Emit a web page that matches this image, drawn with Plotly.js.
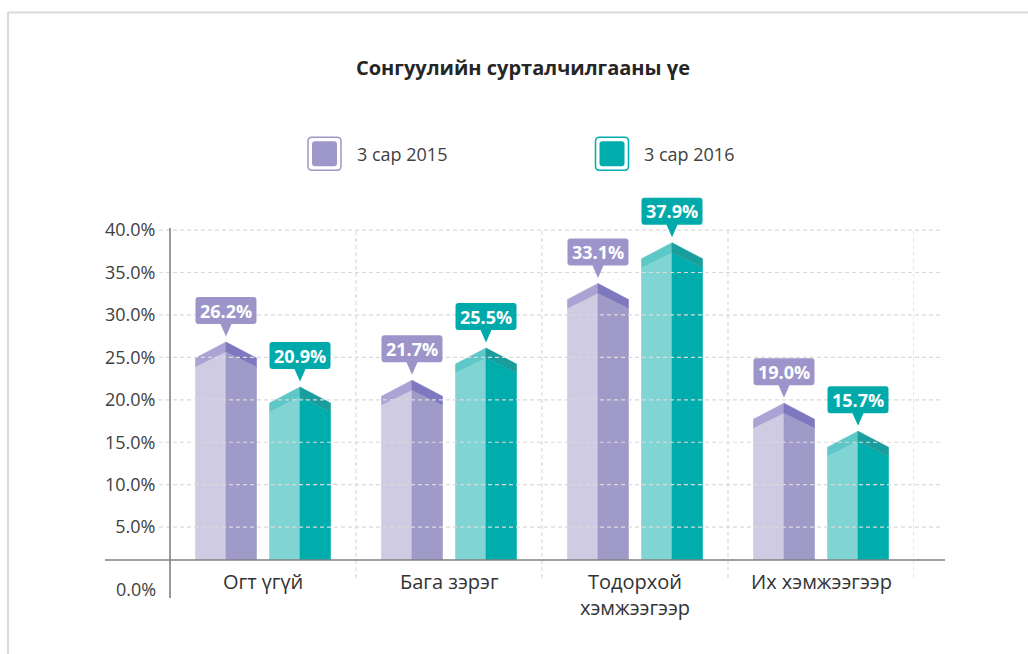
<!DOCTYPE html>
<html><head><meta charset="utf-8">
<script src="https://cdn.plot.ly/plotly-3.0.1.min.js"></script>
<style>html,body{margin:0;padding:0;background:#fff;}#chart{width:1028px;height:654px;}</style>
</head><body><div id="chart"></div>
<script>
// ---------- data ----------
const chartTitle = 'Сонгуулийн сурталчилгааны үе';
const categories = ['Огт үгүй', 'Бага зэрэг', 'Тодорхой<br>хэмжээгээр', 'Их хэмжээгээр'];
const seriesNames = ['3 сар 2015', '3 сар 2016'];
const values2015 = [26.2, 21.7, 33.1, 19.0];
const values2016 = [20.9, 25.5, 37.9, 15.7];
const yTickVals = [5, 10, 15, 20, 25, 30, 35, 40];
const yTickText = ['5.0%', '10.0%', '15.0%', '20.0%', '25.0%', '30.0%', '35.0%', '40.0%'];
const zeroLabel = '0.0%';

// ---------- layout geometry ----------
const W = 1028, H = 654;
const M = {l: 170, r: 114, t: 228, b: 76};
const plotW = W - M.l - M.r, plotH = H - M.t - M.b;
const xRange = [-0.5, 3.5];
const yRange = [-0.99, 40.24];
const pxPerX = plotW / (xRange[1] - xRange[0]);
const pxPerY = plotH / (yRange[1] - yRange[0]);
const dx = p => p / pxPerX, dy = p => p / pxPerY;
const dataYAtPx = py => yRange[1] - (py - M.t) / pxPerY;
const paperX = px => (px - M.l) / plotW;
const paperY = py => (M.t + plotH - py) / plotH;
// data -> paper (unclipped drawing outside the plot area)
const dataToPaperX = v => (v - xRange[0]) / (xRange[1] - xRange[0]);
const dataToPaperY = v => (v - yRange[0]) / (yRange[1] - yRange[0]);

const BAR_OFFSET = 0.199;
const BAR_HALF = dx(30.5);
const PEAK_LIFT = 0.6;
const BASE = dataYAtPx(560);

const styles = [
  {light: '#cfcbe3', dark: '#a09ac9', roofL: '#aaa3d4', roofR: '#7e78bf', callout: '#9d95c9', legend: '#9e97c9', off: -BAR_OFFSET, legendX: 324.5},
  {light: '#80d4d4', dark: '#00acac', roofL: '#5ec7c7', roofR: '#1a9d9d', callout: '#00aaaa', legend: '#00acac', off: BAR_OFFSET, legendX: 612}
];
const seriesValues = [values2015, values2016];

function faces(vals, off, face) {
  const xs = [], ys = [];
  vals.forEach((v, i) => {
    const xc = i + off, xl = xc - BAR_HALF, xr = xc + BAR_HALF;
    const P = v + PEAK_LIFT;
    let pts;
    if (face === 'lb') pts = [[xl, BASE], [xl, P - dy(25)], [xc, P - dy(10)], [xc, BASE]];
    if (face === 'rb') pts = [[xc, BASE], [xc, P - dy(10)], [xr, P - dy(25)], [xr, BASE]];
    if (face === 'lr') pts = [[xl, P - dy(25)], [xl, P - dy(16)], [xc, P], [xc, P - dy(10)]];
    if (face === 'rr') pts = [[xc, P - dy(10)], [xc, P], [xr, P - dy(16)], [xr, P - dy(25)]];
    pts.forEach(p => { xs.push(p[0]); ys.push(p[1]); });
    xs.push(null); ys.push(null);
  });
  return {xs, ys};
}

const traces = [];
seriesValues.forEach((vals, s) => {
  const st = styles[s];
  [['lb', st.light], ['rb', st.dark], ['lr', st.roofL], ['rr', st.roofR]].forEach(([f, c]) => {
    const g = faces(vals, st.off, f);
    traces.push({type: 'scatter', mode: 'lines', x: g.xs, y: g.ys, fill: 'toself', fillcolor: c,
      line: {width: 0.6, color: c}, hoverinfo: 'skip', showlegend: false, name: seriesNames[s]});
  });
});

// callout path in paper coordinates, anchored at a data point
function calloutPath(xc, P) {
  const X = v => dataToPaperX(v), Y = v => dataToPaperY(v);
  const hw = dx(30.5);
  const x0 = xc - hw, x1 = xc + hw, yb = P + dy(18), yt = P + dy(45), tip = P + dy(5.5), pw = dx(5.5);
  const rx = dx(3), ry = dy(3);
  return `M${X(x0 + rx)},${Y(yt)} L${X(x1 - rx)},${Y(yt)} Q${X(x1)},${Y(yt)} ${X(x1)},${Y(yt - ry)} L${X(x1)},${Y(yb + ry)} Q${X(x1)},${Y(yb)} ${X(x1 - rx)},${Y(yb)} ` +
    `L${X(xc + pw)},${Y(yb)} L${X(xc)},${Y(tip)} L${X(xc - pw)},${Y(yb)} L${X(x0 + rx)},${Y(yb)} Q${X(x0)},${Y(yb)} ${X(x0)},${Y(yb + ry)} L${X(x0)},${Y(yt - ry)} Q${X(x0)},${Y(yt)} ${X(x0 + rx)},${Y(yt)} Z`;
}

function roundRectPaper(cx, cy, size, r) {
  const h = size / 2;
  const X = px => paperX(px), Y = py => paperY(py);
  const l = cx - h, rr = cx + h, t = cy - h, b = cy + h;
  return `M${X(l + r)},${Y(t)} L${X(rr - r)},${Y(t)} Q${X(rr)},${Y(t)} ${X(rr)},${Y(t + r)} L${X(rr)},${Y(b - r)} Q${X(rr)},${Y(b)} ${X(rr - r)},${Y(b)} ` +
    `L${X(l + r)},${Y(b)} Q${X(l)},${Y(b)} ${X(l)},${Y(b - r)} L${X(l)},${Y(t + r)} Q${X(l)},${Y(t)} ${X(l + r)},${Y(t)} Z`;
}

const shapes = [];
const annotations = [];
const gridColor = '#dadada';

// frame
shapes.push({type: 'line', xref: 'paper', yref: 'paper', x0: paperX(8), x1: paperX(1030), y0: paperY(12.5), y1: paperY(12.5), line: {color: '#d9d9d9', width: 2}});
shapes.push({type: 'line', xref: 'paper', yref: 'paper', x0: paperX(8), x1: paperX(8), y0: paperY(12), y1: paperY(656), line: {color: '#d9d9d9', width: 2}});

// vertical category dividers
for (let i = 0; i < categories.length; i++) {
  shapes.push({type: 'line', xref: 'x', yref: 'paper', x0: i + 0.5, x1: i + 0.5, y0: 0, y1: 1, layer: 'below',
    line: {color: gridColor, width: 1.2, dash: '4px,3px'}});
}
// horizontal gridlines (over bars)
yTickVals.forEach(v => {
  shapes.push({type: 'line', xref: 'paper', yref: 'y', x0: paperX(159), x1: paperX(942), y0: v, y1: v, layer: 'above',
    line: {color: gridColor, width: 1.2, dash: '4px,3px'}});
});
// axis lines
shapes.push({type: 'line', xref: 'paper', yref: 'y', x0: paperX(105), x1: paperX(945), y0: BASE, y1: BASE, layer: 'above', line: {color: '#808080', width: 1.6}});
shapes.push({type: 'line', xref: 'paper', yref: 'paper', x0: 0, x1: 0, y0: paperY(228), y1: paperY(598), layer: 'above', line: {color: '#808080', width: 1.6}});

// callouts
seriesValues.forEach((vals, s) => {
  const st = styles[s];
  vals.forEach((v, i) => {
    const xc = i + st.off, P = v + PEAK_LIFT;
    shapes.push({type: 'path', xref: 'paper', yref: 'paper', path: calloutPath(xc, P), fillcolor: st.callout, line: {width: 0}, layer: 'above'});
    annotations.push({x: dataToPaperX(xc), y: dataToPaperY(P + dy(31.5)), xref: 'paper', yref: 'paper', text: v.toFixed(1) + '%', showarrow: false,
      xanchor: 'center', yanchor: 'middle', font: {family: 'Open Sans', size: 18, color: '#ffffff', weight: 700}});
  });
});

// legend
seriesNames.forEach((name, s) => {
  const st = styles[s];
  shapes.push({type: 'path', xref: 'paper', yref: 'paper', path: roundRectPaper(st.legendX, 153.7, 33, 4), fillcolor: 'rgba(0,0,0,0)', line: {color: st.legend, width: 1.5}});
  shapes.push({type: 'path', xref: 'paper', yref: 'paper', path: roundRectPaper(st.legendX, 153.7, 25, 3), fillcolor: st.legend, line: {width: 0}});
  annotations.push({xref: 'paper', yref: 'paper', x: paperX(st.legendX + 30), y: paperY(154), text: name, showarrow: false,
    xanchor: 'left', yanchor: 'middle', font: {family: 'Open Sans', size: 18, color: '#404040'}});
});

// category labels
categories.forEach((c, i) => {
  annotations.push({xref: 'paper', yref: 'paper', x: dataToPaperX(i), y: paperY(566), text: c, showarrow: false, xanchor: 'center', yanchor: 'top',
    font: {family: 'Open Sans', size: 20, color: '#333333'}});
});
// zero label
annotations.push({xref: 'paper', yref: 'paper', x: paperX(158), y: paperY(589), text: zeroLabel, showarrow: false, xanchor: 'right', yanchor: 'middle',
  font: {family: 'Open Sans', size: 18, color: '#404040'}});

const layout = {
  width: W, height: H,
  margin: M,
  paper_bgcolor: '#ffffff', plot_bgcolor: '#ffffff',
  title: {text: chartTitle, x: 523 / W, xanchor: 'center', y: 1 - 68 / H, yanchor: 'middle', yref: 'container',
    font: {family: 'Open Sans', size: 20, color: '#262626', weight: 700}},
  showlegend: false,
  xaxis: {range: xRange, showgrid: false, zeroline: false, showline: false, showticklabels: false, fixedrange: true},
  yaxis: {range: yRange, tickvals: yTickVals, ticktext: yTickText, showgrid: false, zeroline: false, showline: false,
    ticks: 'outside', ticklen: 10, tickcolor: 'rgba(0,0,0,0)', tickfont: {family: 'Open Sans', size: 18, color: '#404040'}, fixedrange: true},
  shapes: shapes,
  annotations: annotations
};

Plotly.newPlot('chart', traces, layout, {displayModeBar: false, staticPlot: true});
</script>
</body></html>
